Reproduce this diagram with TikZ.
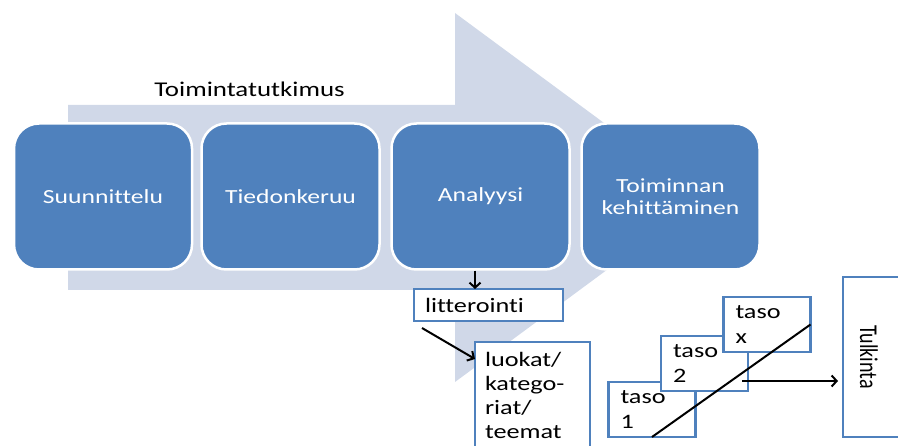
\documentclass[tikz,border=0pt]{standalone}
\usepackage{fontspec}
\setmainfont{Carlito}[FakeStretch=1.28, Ligatures=NoCommon]
\newfontfamily\uprightfont{Carlito}[Ligatures=NoCommon]
\usetikzlibrary{arrows.meta}
\definecolor{phaseblue}{HTML}{4F81BD}
\definecolor{flowgray}{HTML}{D0D8E8}

\tikzset{
  phase/.style={rectangle, rounded corners=25pt, fill=phaseblue, draw=white,
    line width=2.5pt, text=white, minimum width=178pt, minimum height=146pt,
    align=center, font=\fontsize{20}{22}\selectfont},
  wbox/.style={rectangle, draw=phaseblue, line width=2.5pt, fill=white,
    align=left, outer sep=0pt, font=\fontsize{20.5}{24}\selectfont},
  tasobox/.style={wbox, text width=63pt, inner xsep=12pt, minimum height=55pt,
    font=\fontsize{20.5}{25}\selectfont},
  arr/.style={-{Straight Barb[length=5pt,width=11pt]}, line width=2pt, black},
  heading/.style={anchor=base, font=\fontsize{21}{25}\selectfont},
}

\begin{document}
\begin{tikzpicture}[x=1pt,y=-1pt]
\useasboundingbox (0,0) rectangle (898,446);
\clip (0,0) rectangle (898,446);

% broad process arrow in the background
\fill[flowgray] (68,105) -- (455,105) -- (455,13) -- (705,197.5)
  -- (455,382) -- (455,290) -- (68,290) -- cycle;
\node[heading] (title) at (249.5,96.7) {Toimintatutkimus};

% the four phases
\node[phase] (p1) at (103,196.5) {Suunnittelu};
\node[phase] (p2) at (290.5,196.5) {Tiedonkeruu};
\node[phase] (p3) at (480.5,196.5) {Analyysi};
\node[phase] (p4) at (670.5,196.5) {Toiminnan\\kehittäminen};

% analysis steps
\node[wbox, minimum width=149pt, minimum height=32pt, text width=127pt,
  inner xsep=11pt] (litt) at (488.5,305) {litterointi};
\node[wbox, anchor=north west, text width=95pt, inner xsep=10pt,
  inner ysep=10.5pt] (luok) at (475,342) {luokat/\\katego-\\riat/\\teemat};

\draw[arr] ([xshift=-5.5pt]p3.south) -- ([xshift=-5.5pt]p3.south |- litt.north);
\draw[arr] ([xshift=8pt,yshift=-7pt]litt.south west) -- ([yshift=-17pt]luok.north west);

% stacked levels
\node[tasobox] (t1) at (652,409.5) {taso\\1};
\node[tasobox] (t2) at (704.5,363.5) {taso\\2};
\node[tasobox] (tx) at (767,324.5) {taso\\x};
\draw[line width=2pt] (t1.south) -- (tx.east);

% interpretation
\node[wbox, anchor=north west, minimum width=120pt, minimum height=160pt] (tulk) at (843,277) {};
\node[rotate=-90, font=\fontsize{20}{24}\selectfont] (tulktext) at (869,357)
  {\scalebox{1}[1.28]{\uprightfont Tulkinta}};
\coordinate (tap) at (742,381);
\draw[arr, shorten >=5pt] (tap) -- (tap -| tulk.west);
\end{tikzpicture}
\end{document}
